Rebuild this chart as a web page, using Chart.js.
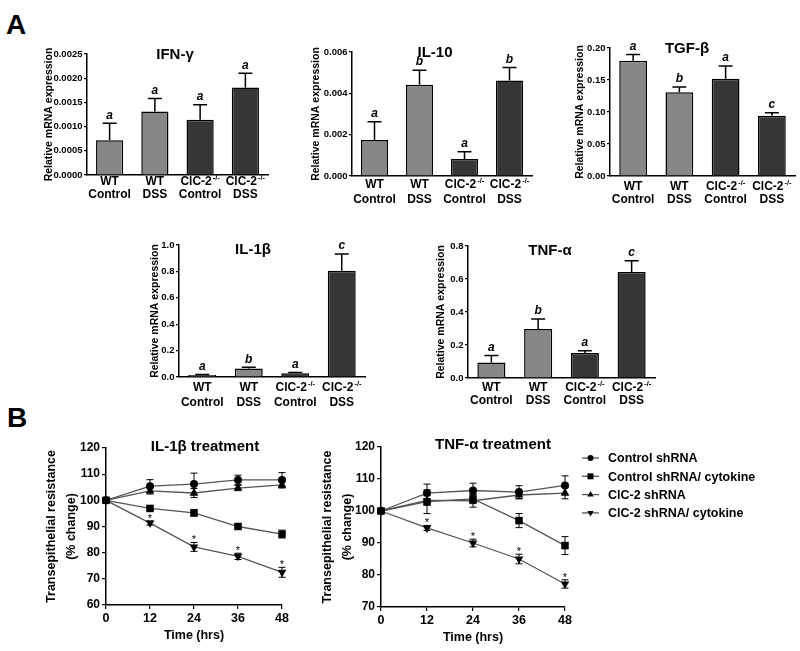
<!DOCTYPE html>
<html>
<head>
<meta charset="utf-8">
<script src="https://cdn.jsdelivr.net/npm/chart.js@4.4.0/dist/chart.umd.min.js"></script>
<style>
  html, body { margin: 0; padding: 0; background: #fff; }
  #page { position: relative; width: 800px; height: 651px; overflow: hidden; font-family: 'Liberation Sans', Arial, sans-serif; }
  canvas { position: absolute; }
  .panel { position: absolute; font-weight: bold; font-size: 28px; line-height: 1; }
</style>
</head>
<body>
<div id="page">
  <div class="panel" style="left:6px;top:11px">A</div>
  <div class="panel" style="left:7px;top:404px">B</div>
</div>
<script>
// ---------- data ----------
const labelTop = ['WT', 'WT', 'ClC-2', 'ClC-2'];
const labelSup = ['', '', '-/-', '-/-'];
const labelBottom = ['Control', 'DSS', 'Control', 'DSS'];

const ifngMean = [0.00072, 0.00131, 0.00114, 0.00181];
const ifngSem = [0.00035, 0.00027, 0.00031, 0.00029];
const ifngLetters = ['a', 'a', 'a', 'a'];
const ifngTicks = ['0.0000', '0.0005', '0.0010', '0.0015', '0.0020', '0.0025'];

const il10Mean = [0.00174, 0.00442, 0.00082, 0.00462];
const il10Sem = [0.00088, 0.00070, 0.00035, 0.00063];
const il10Letters = ['a', 'b', 'a', 'b'];
const il10Ticks = ['0.000', '0.002', '0.004', '0.006'];

const tgfbMean = [0.180, 0.131, 0.152, 0.094];
const tgfbSem = [0.010, 0.008, 0.020, 0.005];
const tgfbLetters = ['a', 'b', 'a', 'c'];
const tgfbTicks = ['0.00', '0.05', '0.10', '0.15', '0.20'];

const il1bMean = [0.015, 0.065, 0.028, 0.805];
const il1bSem = [0.004, 0.008, 0.006, 0.127];
const il1bLetters = ['a', 'b', 'a', 'c'];
const il1bTicks = ['0.0', '0.2', '0.4', '0.6', '0.8', '1.0'];

const tnfaMean = [0.094, 0.297, 0.151, 0.643];
const tnfaSem = [0.042, 0.061, 0.014, 0.067];
const tnfaLetters = ['a', 'b', 'a', 'c'];
const tnfaTicks = ['0.0', '0.2', '0.4', '0.6', '0.8'];

const timeHrs = [0, 12, 24, 36, 48];
const timeTicks = ['0', '12', '24', '36', '48'];
const seriesNames = ['Control shRNA', 'Control shRNA/ cytokine', 'ClC-2 shRNA', 'ClC-2 shRNA/ cytokine'];

// IL-1β treatment
const il1bCtrl = [100, 105.4, 106.2, 107.8, 107.8];
const il1bCtrlSem = [0, 2.5, 4.2, 1.8, 2.8];
const il1bCtrlCyt = [100, 96.9, 95.2, 90.0, 87.1];
const il1bCtrlCytSem = [0, 0.8, 1.2, 0.8, 1.5];
const il1bClc = [100, 103.6, 102.8, 104.7, 105.9];
const il1bClcSem = [0, 1.2, 1.7, 1.0, 1.2];
const il1bClcCyt = [100, 91.3, 82.2, 78.6, 72.5];
const il1bClcCytSem = [0, 0.8, 1.7, 1.2, 1.9];
const il1bStars = [false, true, true, true, true];
const il1bYTicks = ['60', '70', '80', '90', '100', '110', '120'];

// TNF-α treatment
const tnfCtrl = [100, 105.6, 106.4, 105.9, 108.0];
const tnfCtrlSem = [0, 2.8, 2.3, 2.0, 3.0];
const tnfCtrlCyt = [100, 102.9, 103.8, 97.0, 89.2];
const tnfCtrlCytSem = [0, 3.7, 1.5, 2.2, 2.8];
const tnfClc = [100, 103.3, 103.2, 105.0, 105.6];
const tnfClcSem = [0, 1.5, 2.0, 1.2, 1.8];
const tnfClcCyt = [100, 94.7, 90.0, 85.0, 77.2];
const tnfClcCytSem = [0, 0.8, 1.2, 1.5, 1.3];
const tnfStars = [false, true, true, true, true];
const tnfYTicks = ['70', '80', '90', '100', '110', '120'];

// ---------- styling ----------
const FONT = "'Liberation Sans', Arial, sans-serif";
Chart.defaults.font.family = FONT;
Chart.defaults.color = '#000';

const LIGHT = '#878787';
const DARK = '#363636';
const LINE = '#555';
const STYLES = ['circle', 'rect', 'triangle', 'triangle'];
const ROTS = [0, 0, 0, 180];
const RADII = [4, 5.3, 5, 5];

function placeCanvas(g) {
  const c = document.createElement('canvas');
  const left = g.axisX - g.yW;
  const top = g.top - g.padTop;
  const w = Math.round(g.right + g.padRight - left);
  const h = Math.round(g.bottom + g.xH - top);
  c.width = w; c.height = h;
  c.style.left = left + 'px';
  c.style.top = top + 'px';
  c.style.width = w + 'px';
  c.style.height = h + 'px';
  document.getElementById('page').appendChild(c);
  g.offX = left; g.offY = top;
  return c;
}

function marker(ctx, style, rot, x, y, r) {
  ctx.beginPath();
  if (style === 'circle') {
    ctx.arc(x, y, r, 0, Math.PI * 2);
  } else if (style === 'rect') {
    ctx.rect(x - r, y - r, r * 2, r * 2);
  } else {
    const s = rot === 180 ? -1 : 1;
    ctx.moveTo(x, y - s * r);
    ctx.lineTo(x + r * 0.87, y + s * r * 0.5);
    ctx.lineTo(x - r * 0.87, y + s * r * 0.5);
    ctx.closePath();
  }
  ctx.fill();
}

function yOf(d) { return (d !== null && typeof d === 'object') ? d.y : d; }

function drawErrors(chart, both) {
  const ctx = chart.ctx, ys = chart.scales.y;
  chart.data.datasets.forEach((ds, di) => {
    if (!ds.errors) return;
    const meta = chart.getDatasetMeta(di);
    ctx.save();
    ctx.strokeStyle = '#000';
    ctx.lineWidth = both ? 1 : 1.5;
    const cap = both ? 3.5 : 7;
    meta.data.forEach((el, i) => {
      const e = ds.errors[i];
      if (!e) return;
      const v = yOf(ds.data[i]);
      const yt = ys.getPixelForValue(v + e);
      const yb = both ? ys.getPixelForValue(v - e) : el.y;
      ctx.beginPath();
      ctx.moveTo(el.x, yb); ctx.lineTo(el.x, yt);
      ctx.moveTo(el.x - cap, yt); ctx.lineTo(el.x + cap, yt);
      if (both) { ctx.moveTo(el.x - cap, yb); ctx.lineTo(el.x + cap, yb); }
      ctx.stroke();
    });
    ctx.restore();
  });
}

const overlay = {
  id: 'overlay',
  beforeDatasetsDraw(chart, args, o) {
    if (o.kind === 'line') drawErrors(chart, true);
  },
  afterDatasetsDraw(chart, args, o) {
    const ctx = chart.ctx, ys = chart.scales.y, xs = chart.scales.x;
    const area = chart.chartArea;
    if (o.kind === 'bar') drawErrors(chart, false);
    ctx.save();
    ctx.fillStyle = '#000';
    // panel title
    ctx.font = 'bold 15px ' + FONT;
    ctx.textAlign = 'center';
    ctx.textBaseline = 'middle';
    ctx.fillText(o.title, o.titleX - o.offX, o.titleY - o.offY);

    chart.data.datasets.forEach((ds, di) => {
      const meta = chart.getDatasetMeta(di);
      // significance letters over bars
      if (ds.letters) {
        ctx.font = 'italic bold 12px ' + FONT;
        ctx.textBaseline = 'bottom';
        meta.data.forEach((el, i) => {
          const yt = ys.getPixelForValue(ds.data[i] + ds.errors[i]);
          ctx.fillText(ds.letters[i], el.x, yt - 2);
        });
      }
      // asterisks
      if (ds.stars) {
        ctx.font = '11px ' + FONT;
        ctx.textBaseline = 'alphabetic';
        meta.data.forEach((el, i) => {
          if (!ds.stars[i]) return;
          const yt = ys.getPixelForValue(yOf(ds.data[i]) + (ds.errors[i] || 0));
          ctx.fillText('*', el.x, yt + 1);
        });
      }
    });

    // two-row category labels with superscript genotype
    if (o.kind === 'bar') {
      const y0 = area.bottom;
      labelTop.forEach((t, i) => {
        const x = xs.getPixelForValue(i);
        ctx.font = 'bold 12px ' + FONT;
        const w1 = ctx.measureText(t).width;
        ctx.font = 'bold 7.5px ' + FONT;
        const w2 = labelSup[i] ? ctx.measureText(labelSup[i]).width + 1 : 0;
        const sx = x - (w1 + w2) / 2;
        ctx.textAlign = 'left';
        ctx.textBaseline = 'middle';
        ctx.font = 'bold 12px ' + FONT;
        ctx.fillText(t, sx, y0 + o.lab1);
        if (w2) {
          ctx.font = 'bold 7.5px ' + FONT;
          ctx.fillText(labelSup[i], sx + w1 + 1, y0 + o.lab1 - 4);
        }
        ctx.font = 'bold 12px ' + FONT;
        ctx.textAlign = 'center';
        ctx.fillText(labelBottom[i], x, y0 + o.lab2);
      });
    }

    // legend
    if (o.legend) {
      const L = o.legend;
      chart.data.datasets.forEach((ds, i) => {
        const y = L.y - o.offY + i * L.step;
        const x = L.x - o.offX;
        ctx.strokeStyle = LINE;
        ctx.lineWidth = 1.3;
        ctx.beginPath(); ctx.moveTo(x, y); ctx.lineTo(x + 17, y); ctx.stroke();
        ctx.fillStyle = '#000';
        marker(ctx, STYLES[i], ROTS[i], x + 8.5, y, [3, 3, 3.6, 3.6][i]);
        ctx.font = 'bold 12.5px ' + FONT;
        ctx.textAlign = 'left';
        ctx.textBaseline = 'middle';
        ctx.fillText(ds.label, x + 26, y + 1);
      });
    }
    ctx.restore();
  }
};

function barChart(g, mean, sem, letters, ticks, step, title) {
  const canvas = placeCanvas(g);
  new Chart(canvas, {
    type: 'bar',
    data: {
      labels: labelBottom,
      datasets: [{
        data: mean, errors: sem, letters: letters,
        backgroundColor: [LIGHT, LIGHT, DARK, DARK],
        borderColor: '#000', borderWidth: 1.5,
        barPercentage: 0.6, categoryPercentage: 1
      }]
    },
    options: {
      responsive: false, animation: false, devicePixelRatio: 1,
      layout: { padding: { top: g.padTop, right: g.padRight, left: 0, bottom: 0 } },
      plugins: {
        legend: { display: false }, tooltip: { enabled: false },
        overlay: { kind: 'bar', title: title, titleX: g.titleX, titleY: g.titleY, offX: g.offX, offY: g.offY, lab1: g.lab1, lab2: g.lab2 }
      },
      scales: {
        x: {
          grid: { display: false, drawTicks: false },
          border: { display: true, color: '#000', width: 1.5 },
          ticks: { display: false },
          afterFit(s) { s.height = g.xH; }
        },
        y: {
          min: 0, max: step * (ticks.length - 1),
          ticks: { stepSize: step, callback: v => ticks[Math.round(v / step)], font: { size: 9.5, weight: 'bold' }, padding: 1.5 },
          grid: { display: true, drawOnChartArea: false, drawTicks: true, tickLength: 3, color: '#000', lineWidth: 1.2 },
          border: { display: true, color: '#000', width: 1.5 },
          title: { display: true, text: 'Relative mRNA expression', font: { size: 10.5, weight: 'bold' }, padding: 0 },
          afterFit(s) { s.width = g.yW; }
        }
      }
    },
    plugins: [overlay]
  });
}

function lineChart(g, series, sems, stars, yTicks, yMin, title, legend) {
  const canvas = placeCanvas(g);
  const datasets = series.map((arr, k) => ({
    label: seriesNames[k],
    data: timeHrs.map((t, i) => ({ x: t, y: arr[i] })),
    errors: sems[k],
    stars: k === 3 ? stars : null,
    borderColor: LINE, borderWidth: 1.3,
    pointStyle: STYLES[k], rotation: ROTS[k], pointRadius: RADII[k],
    pointBackgroundColor: '#000', pointBorderColor: '#000', pointBorderWidth: 0,
    fill: false, tension: 0, clip: false
  }));
  new Chart(canvas, {
    type: 'line',
    data: { datasets },
    options: {
      responsive: false, animation: false, devicePixelRatio: 1,
      layout: { padding: { top: g.padTop, right: g.padRight, left: 0, bottom: 0 } },
      plugins: {
        legend: { display: false }, tooltip: { enabled: false },
        overlay: { kind: 'line', title: title, titleX: g.titleX, titleY: g.titleY, offX: g.offX, offY: g.offY, legend: legend }
      },
      scales: {
        x: {
          type: 'linear', min: 0, max: 48,
          ticks: { stepSize: 12, callback: v => timeTicks[Math.round(v / 12)], font: { size: 12.5, weight: 'bold' }, padding: 2 },
          grid: { display: true, drawOnChartArea: false, drawTicks: true, tickLength: 4, color: '#000', lineWidth: 1.2 },
          border: { display: true, color: '#000', width: 1.5 },
          title: { display: true, text: 'Time (hrs)', font: { size: 12.5, weight: 'bold' }, padding: 0 },
          afterFit(s) { s.height = g.xH; }
        },
        y: {
          min: yMin, max: 120,
          ticks: { stepSize: 10, callback: v => yTicks[Math.round((v - yMin) / 10)], font: { size: 12, weight: 'bold' }, padding: 2 },
          grid: { display: true, drawOnChartArea: false, drawTicks: true, tickLength: 4, color: '#000', lineWidth: 1.2 },
          border: { display: true, color: '#000', width: 1.5 },
          title: { display: true, text: ['Transepithelial resistance', '(% change)'], font: { size: 12.5, weight: 'bold', lineHeight: 1.6 }, padding: 0 },
          afterFit(s) { s.width = g.yW; }
        }
      }
    },
    plugins: [overlay]
  });
}

// ---------- layout (page pixels) ----------
barChart({ axisX: 87, top: 54, bottom: 175, right: 268, yW: 44, xH: 34, padTop: 14, padRight: 4, titleX: 175, titleY: 55, lab1: 7, lab2: 20 },
  ifngMean, ifngSem, ifngLetters, ifngTicks, 0.0005, 'IFN-γ');
barChart({ axisX: 352, top: 52, bottom: 176, right: 532, yW: 42, xH: 34, padTop: 14, padRight: 4, titleX: 435, titleY: 53, lab1: 9, lab2: 24 },
  il10Mean, il10Sem, il10Letters, il10Ticks, 0.002, 'IL-10');
barChart({ axisX: 610, top: 48, bottom: 176, right: 795, yW: 36, xH: 34, padTop: 14, padRight: 4, titleX: 687, titleY: 48.5, lab1: 11, lab2: 24 },
  tgfbMean, tgfbSem, tgfbLetters, tgfbTicks, 0.05, 'TGF-β');
barChart({ axisX: 179, top: 245, bottom: 377, right: 365, yW: 30, xH: 36, padTop: 14, padRight: 4, titleX: 253, titleY: 250, lab1: 11, lab2: 26 },
  il1bMean, il1bSem, il1bLetters, il1bTicks, 0.2, 'IL-1β');
barChart({ axisX: 468, top: 246, bottom: 378, right: 655, yW: 33, xH: 34, padTop: 14, padRight: 4, titleX: 550, titleY: 251, lab1: 9.5, lab2: 23 },
  tnfaMean, tnfaSem, tnfaLetters, tnfaTicks, 0.2, 'TNF-α');

lineChart({ axisX: 106, top: 448, bottom: 605, right: 282, yW: 64, xH: 38, padTop: 12, padRight: 12, titleX: 205, titleY: 447 },
  [il1bCtrl, il1bCtrlCyt, il1bClc, il1bClcCyt], [il1bCtrlSem, il1bCtrlCytSem, il1bClcSem, il1bClcCytSem],
  il1bStars, il1bYTicks, 60, 'IL-1β treatment', null);
lineChart({ axisX: 381, top: 447, bottom: 607, right: 565, yW: 63, xH: 38, padTop: 12, padRight: 235, titleX: 493, titleY: 445 },
  [tnfCtrl, tnfCtrlCyt, tnfClc, tnfClcCyt], [tnfCtrlSem, tnfCtrlCytSem, tnfClcSem, tnfClcCytSem],
  tnfStars, tnfYTicks, 70, 'TNF-α treatment', { x: 582, y: 458, step: 18.3 });
</script>
</body>
</html>
